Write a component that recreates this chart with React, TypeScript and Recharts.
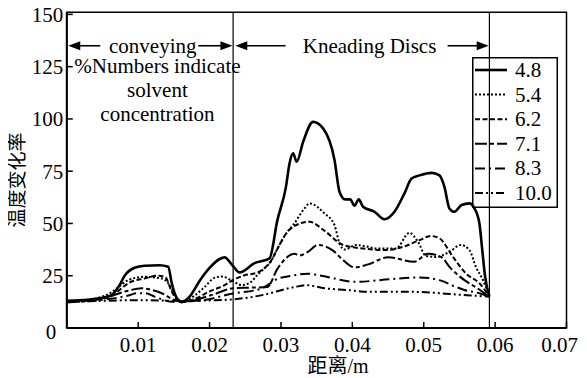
import React from 'react';
import { LineChart, Line, XAxis, YAxis, ReferenceLine, ReferenceArea, ReferenceDot, Legend } from 'recharts';

const FONT = '"Liberation Serif", "Times New Roman", serif, "Noto Sans CJK SC"';

const xTicks = [0.01, 0.02, 0.03, 0.04, 0.05, 0.06, 0.07];
const yTicks = [0, 25, 50, 75, 100, 125, 150];
const seriesNames = ['4.8', '5.4', '6.2', '7.1', '8.3', '10.0'];
const conveyingEnd = 0.0233;
const kneadingEnd = 0.0592;

const s48: [number, number][] = [
  [0, 13], [0.003, 13.5], [0.006, 15.3], [0.0074, 20.5], [0.0081, 25], [0.0095, 28.8], [0.0109, 29.8],
  [0.013, 30], [0.0142, 29.3], [0.0147, 21.5], [0.0151, 16.7], [0.0156, 13.4], [0.0161, 12.4],
  [0.0172, 15], [0.0186, 22.5], [0.02, 28.7], [0.0214, 33], [0.0221, 33.8], [0.0232, 30],
  [0.0242, 26.6], [0.0263, 31], [0.0284, 33.3], [0.0295, 51.6], [0.0307, 67.5], [0.0312, 78.7],
  [0.0317, 83.5], [0.0322, 79.5], [0.0331, 89], [0.0345, 98.6], [0.0359, 95.5], [0.0375, 80.4],
  [0.0382, 65.2], [0.039, 61.5], [0.0397, 61.5], [0.0403, 58.5], [0.0409, 61.5], [0.0415, 58],
  [0.0431, 55.6], [0.0445, 52], [0.0459, 55.6], [0.0473, 64.4], [0.0483, 71.5], [0.0494, 73],
  [0.0511, 74.2], [0.0522, 73], [0.0529, 67.5], [0.0536, 57.2], [0.0543, 55.6], [0.0553, 58.8],
  [0.0564, 59.6], [0.0571, 57.2], [0.0578, 50], [0.0582, 37.3], [0.0586, 24.5], [0.0592, 15],
];
const s54: [number, number][] = [
  [0, 12.8], [0.003, 13.5], [0.006, 16.6], [0.0074, 20], [0.0086, 22.9], [0.0109, 24.5], [0.0133, 23.7],
  [0.0142, 21.4], [0.0151, 15.8], [0.0161, 12.6], [0.0179, 15.5], [0.0193, 19.6], [0.0207, 24],
  [0.0217, 24.6], [0.0232, 22.5], [0.0245, 20.5], [0.0258, 22], [0.0266, 25], [0.0272, 27],
  [0.0286, 32], [0.0296, 38.5], [0.0309, 46], [0.0317, 49.2], [0.0333, 57.2], [0.034, 59.6],
  [0.0361, 54.8], [0.0375, 49.2], [0.0382, 40.5], [0.0389, 37.5], [0.0405, 39.7], [0.0438, 38],
  [0.0461, 38], [0.048, 45.5], [0.0492, 41.2], [0.0503, 34.5], [0.0517, 34], [0.0536, 36.4],
  [0.0552, 39.7], [0.0564, 37.3], [0.0573, 29.3], [0.0583, 22.9], [0.0592, 15],
];
const s62: [number, number][] = [
  [0, 12.5], [0.004, 13.5], [0.0065, 16], [0.0077, 19], [0.0086, 21.4], [0.0109, 23.7], [0.0128, 25],
  [0.0138, 24.3], [0.0147, 17.4], [0.0156, 13], [0.0161, 12.4], [0.018, 14], [0.02, 17.5],
  [0.0221, 20.5], [0.0233, 23], [0.0249, 25.2], [0.0267, 26.5], [0.0278, 29], [0.0286, 32],
  [0.0296, 38.5], [0.0309, 46], [0.0318, 48.6], [0.034, 50.8], [0.0361, 46.5], [0.0387, 39.7],
  [0.0415, 38], [0.0447, 37.3], [0.0471, 38.8], [0.0494, 42], [0.051, 44], [0.0522, 42.9],
  [0.0541, 34], [0.0559, 26.1], [0.0578, 21.4], [0.0592, 15],
];
const s71: [number, number][] = [
  [0, 12.5], [0.005, 14], [0.0081, 17.4], [0.0105, 19], [0.0119, 18.2], [0.0133, 16.6], [0.0151, 13.4],
  [0.0161, 12.8], [0.018, 13.5], [0.0205, 16], [0.0233, 19], [0.0255, 19.3], [0.0281, 19.6],
  [0.0295, 28.3], [0.0319, 35.5], [0.0326, 34.7], [0.0337, 36.3], [0.0352, 39.7], [0.0373, 37],
  [0.0387, 32.5], [0.0403, 29], [0.0421, 30.3], [0.045, 33.8], [0.0487, 31.7], [0.0506, 35.5],
  [0.0524, 34], [0.0538, 28.5], [0.0557, 22.9], [0.0573, 19.5], [0.0592, 15],
];
const s83: [number, number][] = [
  [0, 12.3], [0.005, 13.5], [0.0086, 15.5], [0.0098, 16.6], [0.011, 16.6], [0.0123, 15], [0.0147, 12.6],
  [0.0161, 12.7], [0.019, 13.3], [0.0233, 16.5], [0.0272, 18.8], [0.0296, 23.6], [0.0319, 25.2],
  [0.0337, 26], [0.0352, 25.3], [0.0405, 22.1], [0.0452, 23.3], [0.0494, 24.2], [0.0522, 22.9],
  [0.0545, 19.7], [0.0557, 18.2], [0.0578, 16.6], [0.0592, 15],
];
const s100: [number, number][] = [
  [0, 12.3], [0.005, 13], [0.01, 13.3], [0.0161, 13], [0.02, 13.2], [0.0233, 13.7], [0.0272, 15.6],
  [0.0319, 19.6], [0.0336, 20.5], [0.0361, 19], [0.0392, 18.2], [0.0424, 17.3], [0.0484, 17.3],
  [0.0554, 15.8], [0.0592, 15],
];

const seriesValues = [s48, s54, s62, s71, s83, s100];
const dashes: (string | undefined)[] = [undefined, '2 2', '5 2.5', '12 3 4 3', '10 4 2 4', '8 3 2 3 2 3'];
const widths = [2.6, 2, 2, 2, 2, 2];

const toRows = (pts: [number, number][]) => pts.map(([x, y]) => ({ x, y }));

const makeArrow = (label: string, textFrac: number, textW: number, padL: number, padR: number) => (props: any) => {
  const { x1, y1, x2 } = props;
  const cx = x1 + (x2 - x1) * textFrac;
  const lEnd = cx - textW / 2 - padL;
  const rStart = cx + textW / 2 + padR;
  const head = 12;
  const hh = 4.5;
  return (
    <g>
      <line x1={x1 + head - 1} y1={y1} x2={lEnd} y2={y1} stroke="#000" strokeWidth={1.6} />
      <polygon points={`${x1},${y1} ${x1 + head},${y1 - hh} ${x1 + head},${y1 + hh}`} fill="#000" />
      <line x1={rStart} y1={y1} x2={x2 - head + 1} y2={y1} stroke="#000" strokeWidth={1.6} />
      <polygon points={`${x2},${y1} ${x2 - head},${y1 - hh} ${x2 - head},${y1 + hh}`} fill="#000" />
      <text x={cx} y={y1 + 7} textAnchor="middle" fontSize={21} fontFamily={FONT} fill="#000">{label}</text>
    </g>
  );
};

const noteLines = ['%Numbers indicate', 'solvent', 'concentration'];
const NoteShape = (props: any) => {
  const { cx, cy } = props;
  return (
    <g>
      {noteLines.map((t, i) => (
        <text key={t} x={cx} y={cy + i * 24} textAnchor="middle" fontSize={21} fontFamily={FONT} fill="#000">{t}</text>
      ))}
    </g>
  );
};

const YTick = (props: any) => {
  const { x, y, payload } = props;
  const zero = payload.value === 0;
  return (
    <text x={x + (zero ? -7 : 0)} y={y + (zero ? 4 : 0)} dy="0.355em" textAnchor="end" fontSize={21} fontFamily={FONT} fill="#000">
      {payload.value}
    </text>
  );
};

const renderLegend = () => (
  <svg width={86} height={151} style={{ display: 'block' }}>
    <rect x={0.75} y={0.75} width={84.5} height={149.5} fill="none" stroke="#000" strokeWidth={1.5} />
    {seriesNames.map((n, i) => {
      const cy = 13 + i * 24.6;
      return (
        <g key={n}>
          <line x1={3} x2={35} y1={cy} y2={cy} stroke="#000" strokeWidth={widths[i]} strokeDasharray={dashes[i]} />
          <text x={43} y={cy + 7} fontSize={21} fontFamily={FONT} fill="#000">{n}</text>
        </g>
      );
    })}
  </svg>
);

export default function App() {
  return (
    <div style={{ position: 'relative', width: 578, height: 378, margin: '-8px 0 0 -8px', fontFamily: FONT }}>
      <LineChart width={578} height={378} margin={{ top: 12.3, right: 11.5, left: 16.8, bottom: 0 }}>
        <ReferenceArea x1={0} x2={0.07} y1={0} y2={151} fill="none" stroke="#000" strokeWidth={1.5} ifOverflow="visible" />
        <XAxis
          dataKey="x"
          type="number"
          domain={[0, 0.07]}
          ticks={xTicks}
          allowDataOverflow
          height={50}
          tickSize={-6}
          tickMargin={15}
          tickFormatter={(v: number) => v.toFixed(2)}
          tick={{ fontSize: 21, fill: '#000', fontFamily: FONT }}
          axisLine={{ stroke: '#000', strokeWidth: 2 }}
          tickLine={{ stroke: '#000', strokeWidth: 1.5 }}
        />
        <YAxis
          type="number"
          domain={[0, 151]}
          ticks={yTicks}
          allowDataOverflow
          width={50}
          tickSize={-6}
          tickMargin={9.5}
          tick={<YTick />}
          axisLine={{ stroke: '#000', strokeWidth: 2 }}
          tickLine={{ stroke: '#000', strokeWidth: 1.5 }}
        />
        <ReferenceLine x={conveyingEnd} stroke="#000" strokeWidth={1.2} />
        <ReferenceLine x={kneadingEnd} stroke="#000" strokeWidth={1.2} />
        <ReferenceLine
          segment={[{ x: 0.0002, y: 135 }, { x: conveyingEnd - 0.0001, y: 135 }]}
          shape={makeArrow('conveying', 0.515, 89, 8, 1)}
        />
        <ReferenceLine
          segment={[{ x: conveyingEnd + 0.0003, y: 135 }, { x: kneadingEnd - 0.0001, y: 135 }]}
          shape={makeArrow('Kneading Discs', 0.53, 134, 17, 11)}
        />
        <ReferenceDot x={0.0127} y={122} r={0} shape={NoteShape} />
        {seriesValues.map((s, i) => (
          <Line
            key={seriesNames[i]}
            name={seriesNames[i]}
            data={toRows(s)}
            dataKey="y"
            type="monotone"
            stroke="#000"
            strokeWidth={widths[i]}
            strokeDasharray={dashes[i]}
            dot={false}
            activeDot={false}
            isAnimationActive={false}
          />
        ))}
        <Legend
          layout="vertical"
          align="center"
          verticalAlign="middle"
          content={renderLegend}
          wrapperStyle={{ position: 'absolute', left: 472, top: 57, width: 86, height: 151 }}
        />
      </LineChart>
      <div
        style={{
          position: 'absolute', left: 17, top: 180, transform: 'translate(-50%, -50%) rotate(-90deg)',
          whiteSpace: 'nowrap', fontSize: 19, lineHeight: 1, color: '#000',
        }}
      >
        温度变化率
      </div>
      <div
        style={{
          position: 'absolute', left: 338, top: 366, transform: 'translate(-50%, -50%)',
          whiteSpace: 'nowrap', fontSize: 20, lineHeight: 1, color: '#000',
        }}
      >
        距离/m
      </div>
    </div>
  );
}
